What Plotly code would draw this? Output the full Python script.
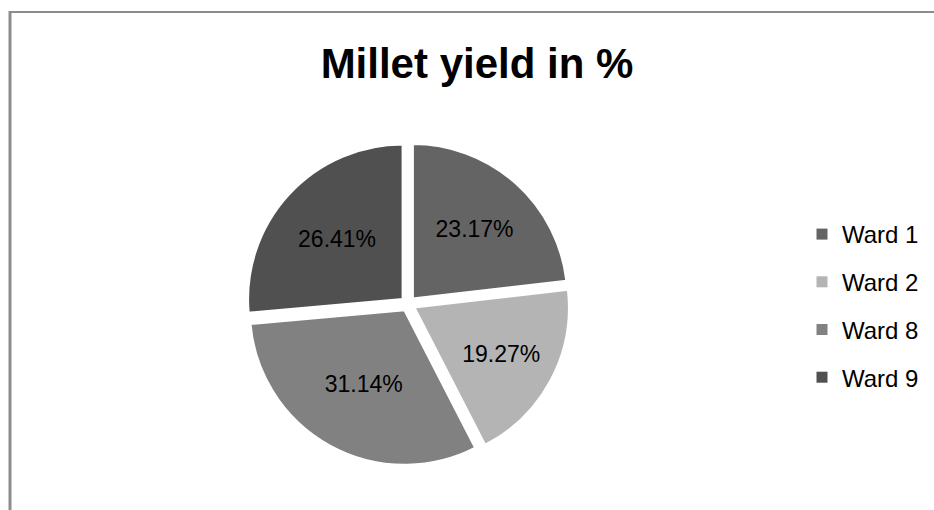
import plotly.graph_objects as go

labels = ["Ward 1", "Ward 2", "Ward 8", "Ward 9"]
values = [23.17, 19.27, 31.14, 26.41]
colors = ["#646464", "#b4b4b4", "#818181", "#505050"]
title_text = "Millet yield in %"

W, H = 934, 510
cx, cy, r, pull = 408, 304, 155, 0.045
half = r * (1 + pull)

fig = go.Figure()
fig.add_trace(go.Pie(
    labels=labels, values=values, sort=False, direction="clockwise", rotation=0,
    pull=[pull] * len(values),
    text=[f"{v:.2f}%" for v in values], textinfo="text", textposition="inside",
    insidetextorientation="horizontal",
    textfont=dict(family="Liberation Sans, Arial", size=23, color="#000000"),
    marker=dict(colors=colors, line=dict(color="#ffffff", width=2.5)),
    showlegend=False, hoverinfo="label+percent",
    domain=dict(x=[(cx - half) / W, (cx + half) / W],
                y=[(H - cy - half) / H, (H - cy + half) / H]),
))

for i, (lab, col) in enumerate(zip(labels, colors)):
    fig.add_trace(go.Scatter(
        x=[None], y=[None], mode="markers", name=lab, legendgroup=lab,
        marker=dict(symbol="square", size=11, color=col),
        showlegend=True,
    ))

fig.update_layout(
    width=W, height=H, margin=dict(l=0, r=0, t=0, b=0),
    paper_bgcolor="#ffffff", plot_bgcolor="#ffffff",
    xaxis=dict(visible=False), yaxis=dict(visible=False),
    title=dict(text=f"<b>{title_text}</b>", x=477 / W, xanchor="center",
               y=1 - 63 / H, yanchor="middle", yref="container", xref="container",
               font=dict(family="Liberation Sans, Arial", size=42, color="#000000")),
    legend=dict(x=802 / W, xanchor="left", y=1 - 212 / H, yanchor="top",
                font=dict(family="Liberation Sans, Arial", size=24, color="#000000"),
                tracegroupgap=13.5, bgcolor="rgba(0,0,0,0)"),
    shapes=[
        dict(type="line", xref="paper", yref="paper", x0=9 / W, x1=1.0,
             y0=1 - 12 / H, y1=1 - 12 / H, line=dict(color="#8c8c8c", width=2)),
        dict(type="line", xref="paper", yref="paper", x0=10 / W, x1=10 / W,
             y0=1 - 11 / H, y1=0, line=dict(color="#8c8c8c", width=3)),
    ],
)

fig.write_html("out.html")
